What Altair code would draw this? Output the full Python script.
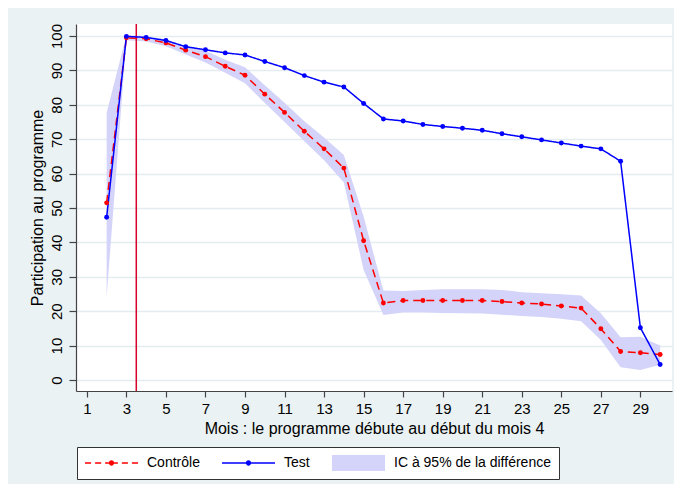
import altair as alt
import pandas as pd

# ---- data ----
months = list(range(2, 31))
test = [47.3, 99.9, 99.6, 98.7, 96.9, 96.0, 95.1, 94.5, 92.6, 90.8, 88.5, 86.6, 85.2,
        80.4, 75.9, 75.3, 74.3, 73.7, 73.2, 72.6, 71.6, 70.7, 69.8, 68.9, 68.0, 67.2,
        63.6, 15.2, 4.5]
control = [51.5, 99.5, 99.2, 98.0, 95.9, 94.0, 91.2, 88.6, 83.1, 77.8, 72.3, 67.2, 61.6,
           40.5, 22.4, 23.1, 23.1, 23.1, 23.1, 23.1, 22.8, 22.4, 22.1, 21.5, 20.9, 14.9,
           8.3, 7.9, 7.4]
ci_low = [24.2, 98.8, 98.4, 97.0, 94.6, 92.3, 89.3, 86.3, 80.5, 75.0, 69.4, 63.9, 57.4,
          32.0, 18.9, 19.6, 19.6, 19.5, 19.4, 19.3, 19.0, 18.6, 18.3, 17.8, 17.1, 11.6,
          3.7, 2.9, 4.4]
ci_high = [77.7, 100.2, 100.0, 99.0, 97.2, 95.7, 93.1, 90.9, 85.7, 80.6, 75.2, 70.5, 65.4,
           47.5, 26.0, 25.9, 26.2, 26.4, 26.4, 26.4, 26.2, 25.5, 25.2, 24.9, 24.6, 19.4,
           12.4, 12.6, 10.0]
start_month = [3.5]
x_ticks = list(range(1, 30, 2))
y_ticks = list(range(0, 101, 10))
series_names = ["Contrôle", "Test", "IC à 95% de la différence"]
series_colors = ["#ff0000", "#0000ff", "#d4d4fa"]

lines_df = pd.DataFrame({
    "mois": months * 2,
    "valeur": control + test,
    "serie": [series_names[0]] * len(months) + [series_names[1]] * len(months),
})
band_df = pd.DataFrame({"mois": months, "bas": ci_low, "haut": ci_high})
rule_df = pd.DataFrame({"mois": start_month})

FONT = "Liberation Sans"
AXIS_COL = "#444444"

# ---- legend glyphs (SVG paths in symbol units; 1 unit = sqrt(size)/2 px) ----
HALF = 0.028   # half thickness of the line glyph
DOT = "M0.1,0A0.1,0.1,0,1,1,-0.1,0A0.1,0.1,0,1,1,0.1,0Z"


def seg(a, b):
    return f"M{a},{-HALF}L{b},{-HALF}L{b},{HALF}L{a},{HALF}Z"


dashed_glyph = "".join(seg(a, b) for a, b in
                       [(-1, -0.77), (-0.62, -0.39), (-0.24, 0.24), (0.39, 0.62), (0.77, 1)]) + DOT
solid_glyph = seg(-1, 1) + DOT
band_glyph = "M-1,-0.3L1,-0.3L1,0.3L-1,0.3Z"
legend_shapes = [dashed_glyph, solid_glyph, band_glyph]

x_scale = alt.Scale(domain=[0.45, 30.6], nice=False, zero=False)
y_scale = alt.Scale(domain=[-3.2, 103.5], nice=False, zero=False)
color_scale = alt.Scale(domain=series_names, range=series_colors)
shape_scale = alt.Scale(domain=series_names, range=legend_shapes)

x_axis = alt.Axis(
    values=x_ticks, title="Mois : le programme débute au début du mois 4",
    grid=False, tickSize=6, labelFontSize=15, titleFontSize=16, labelPadding=4,
    titleY=37, titleBaseline="middle", domainColor=AXIS_COL, tickColor=AXIS_COL,
    domainWidth=1.2, tickWidth=1.2, labelColor="black", titleColor="black",
    titleFontWeight="normal", labelFont=FONT, titleFont=FONT, labelFlush=False,
    labelOverlap=False,
)
y_axis = alt.Axis(
    values=y_ticks, title="Participation au programme", grid=True,
    gridColor="#e3ecef", gridWidth=1.5, tickSize=7, labelAngle=270,
    labelAlign="center", labelBaseline="bottom", labelPadding=5, labelFontSize=15,
    labelOverlap=False, labelSeparation=0,
    titleFontSize=16, titleAngle=270, titleX=-39, titleY=183.5, titleAlign="center",
    titleBaseline="middle", domainColor=AXIS_COL, tickColor=AXIS_COL,
    domainWidth=1.2, tickWidth=1.2, labelColor="black", titleColor="black",
    titleFontWeight="normal", labelFont=FONT, titleFont=FONT,
)

legend = alt.Legend(
    title=None, orient="none", legendX=1, legendY=423, direction="horizontal",
    symbolSize=2809, clipHeight=16, labelOffset=9, columnPadding=22, padding=8,
    strokeColor="#333333", fillColor="white", labelFontSize=14, labelFont=FONT,
    labelColor="black", symbolStrokeWidth=0, cornerRadius=0, symbolOpacity=1,
)

X = alt.X("mois:Q", scale=x_scale, axis=x_axis)

band = alt.Chart(band_df).mark_area(color="#d4d4fa", opacity=1).encode(
    x=X,
    y=alt.Y("bas:Q", scale=y_scale, axis=y_axis),
    y2="haut:Q",
)

rule = alt.Chart(rule_df).mark_rule(color="#d6002a", strokeWidth=1.5).encode(
    x=X,
)

# legend-only layer (draws no marks; its scales carry the three legend entries)
legend_layer = alt.Chart(lines_df).transform_filter("false").mark_point(
    filled=True, opacity=1
).encode(
    x=X,
    y=alt.Y("valeur:Q", scale=y_scale, axis=y_axis),
    color=alt.Color("serie:N", scale=color_scale, legend=legend),
    shape=alt.Shape("serie:N", scale=shape_scale, legend=legend),
)

lines = alt.Chart(lines_df).mark_line(
    strokeWidth=1.5, point=alt.OverlayMarkDef(filled=True, size=24, opacity=1)
).encode(
    x=X,
    y=alt.Y("valeur:Q", scale=y_scale, axis=y_axis),
    color=alt.Color("serie:N", scale=color_scale, legend=legend),
    strokeDash=alt.StrokeDash("serie:N", scale=alt.Scale(domain=series_names[:2],
                              range=[[8, 5], [1, 0]]), legend=None),
    order=alt.Order("mois:Q"),
)

chart = alt.layer(legend_layer, band, rule, lines).properties(
    width=596, height=367,
    autosize=alt.AutoSizeParams(type="none"),
    padding={"left": 68, "top": 16, "right": 2, "bottom": 93},
    background="#eaf2f3",
).configure_view(fill="white", stroke=None).configure_axisY(labelOverlap=False)

chart.save("out.html", embed_options={"renderer": "svg", "actions": False})
